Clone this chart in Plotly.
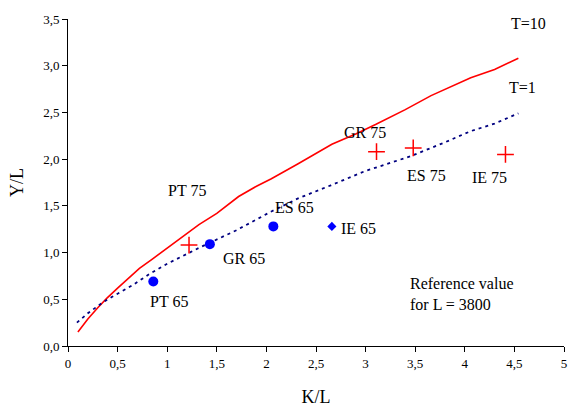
import plotly.graph_objects as go

# T=10 curve (red)
t10_x = [0.10, 0.20, 0.30, 0.39, 0.50, 0.60, 0.72, 0.85, 1.00, 1.15, 1.32, 1.50, 1.72, 1.90, 2.05, 2.32, 2.66, 2.90, 3.10, 3.40, 3.66, 4.06, 4.30, 4.54]
t10_y = [0.15, 0.29, 0.41, 0.51, 0.62, 0.72, 0.83, 0.93, 1.05, 1.16, 1.30, 1.42, 1.60, 1.71, 1.79, 1.95, 2.16, 2.27, 2.37, 2.53, 2.68, 2.87, 2.96, 3.08]

# T=1 curve (navy dashed)
t1_x = [0.09, 0.20, 0.29, 0.37, 0.45, 0.55, 0.65, 0.82, 1.00, 1.32, 1.70, 2.05, 2.32, 2.65, 2.99, 3.45, 3.80, 4.06, 4.30, 4.54]
t1_y = [0.25, 0.35, 0.42, 0.48, 0.53, 0.59, 0.65, 0.77, 0.88, 1.05, 1.24, 1.44, 1.58, 1.72, 1.87, 2.03, 2.18, 2.30, 2.38, 2.49]

# 1965 observations (blue circles)
c65_names = ["PT 65", "GR 65", "ES 65"]
c65_x = [0.86, 1.43, 2.07]
c65_y = [0.69, 1.09, 1.28]

# Ireland 1965 (blue diamond)
ie65_x = [2.66]
ie65_y = [1.28]

# 1975 observations (red crosses)
c75_names = ["PT 75", "GR 75", "ES 75", "IE 75"]
c75_x = [1.22, 3.11, 3.48, 4.41]
c75_y = [1.08, 2.08, 2.12, 2.05]

# Text labels (text, x, y)
label_text = ["PT 75", "PT 65", "GR 65", "ES 65", "IE 65", "GR 75", "ES 75", "IE 75", "T=10", "T=1"]
label_x = [1.20, 1.02, 1.77, 2.28, 2.93, 2.99, 3.61, 4.25, 4.64, 4.58]
label_y = [1.66, 0.48, 0.94, 1.48, 1.26, 2.29, 1.82, 1.80, 3.45, 2.77]

x_ticks = [0, 0.5, 1, 1.5, 2, 2.5, 3, 3.5, 4, 4.5, 5]
x_ticklabels = ["0", "0,5", "1", "1,5", "2", "2,5", "3", "3,5", "4", "4,5", "5"]
y_ticks = [0.0, 0.5, 1.0, 1.5, 2.0, 2.5, 3.0, 3.5]
y_ticklabels = ["0,0", "0,5", "1,0", "1,5", "2,0", "2,5", "3,0", "3,5"]

FONT = "Liberation Serif"

fig = go.Figure()
fig.add_trace(go.Scatter(x=t10_x, y=t10_y, mode="lines",
                         line=dict(color="#ff0000", width=1.6),
                         showlegend=False))
fig.add_trace(go.Scatter(x=t1_x, y=t1_y, mode="lines",
                         line=dict(color="#000080", width=1.8, dash="3px,4px"),
                         showlegend=False))
fig.add_trace(go.Scatter(x=c65_x, y=c65_y, mode="markers",
                         marker=dict(symbol="circle", size=10, color="#0000ff"),
                         showlegend=False))
fig.add_trace(go.Scatter(x=ie65_x, y=ie65_y, mode="markers",
                         marker=dict(symbol="diamond", size=7, color="#0000ff"),
                         showlegend=False))
fig.add_trace(go.Scatter(x=c75_x, y=c75_y, mode="markers",
                         marker=dict(symbol="cross-thin", size=12,
                                     line=dict(color="#ff0000", width=1.5)),
                         showlegend=False))

annotations = []
for t, x, y in zip(label_text, label_x, label_y):
    annotations.append(dict(text=t, x=x, y=y, xref="x", yref="y", showarrow=False,
                            font=dict(family=FONT, size=16, color="black")))
annotations.append(dict(text="Reference value<br>for L = 3800", x=3.43, y=0.555,
                        xref="x", yref="y", xanchor="left", align="left", showarrow=False,
                        font=dict(family=FONT, size=16, color="black")))

fig.update_layout(
    width=579, height=419,
    margin=dict(l=68, r=12, t=12, b=73),
    paper_bgcolor="white", plot_bgcolor="white",
    font=dict(family=FONT, size=13, color="black"),
    annotations=annotations,
    xaxis=dict(range=[0, 5], tickvals=x_ticks, ticktext=x_ticklabels,
               showgrid=False, zeroline=False, showline=True, linecolor="black",
               linewidth=1, ticks="outside", ticklen=5, tickcolor="black",
               tickfont=dict(family=FONT, size=13),
               title=dict(text="K/L", font=dict(family=FONT, size=18), standoff=20)),
    yaxis=dict(range=[0, 3.5], tickvals=y_ticks, ticktext=y_ticklabels,
               showgrid=False, zeroline=False, showline=True, linecolor="black",
               linewidth=1, ticks="outside", ticklen=5, tickcolor="black",
               tickfont=dict(family=FONT, size=13),
               title=dict(text="Y/L", font=dict(family=FONT, size=18), standoff=14)),
)

fig.write_html("out.html")
